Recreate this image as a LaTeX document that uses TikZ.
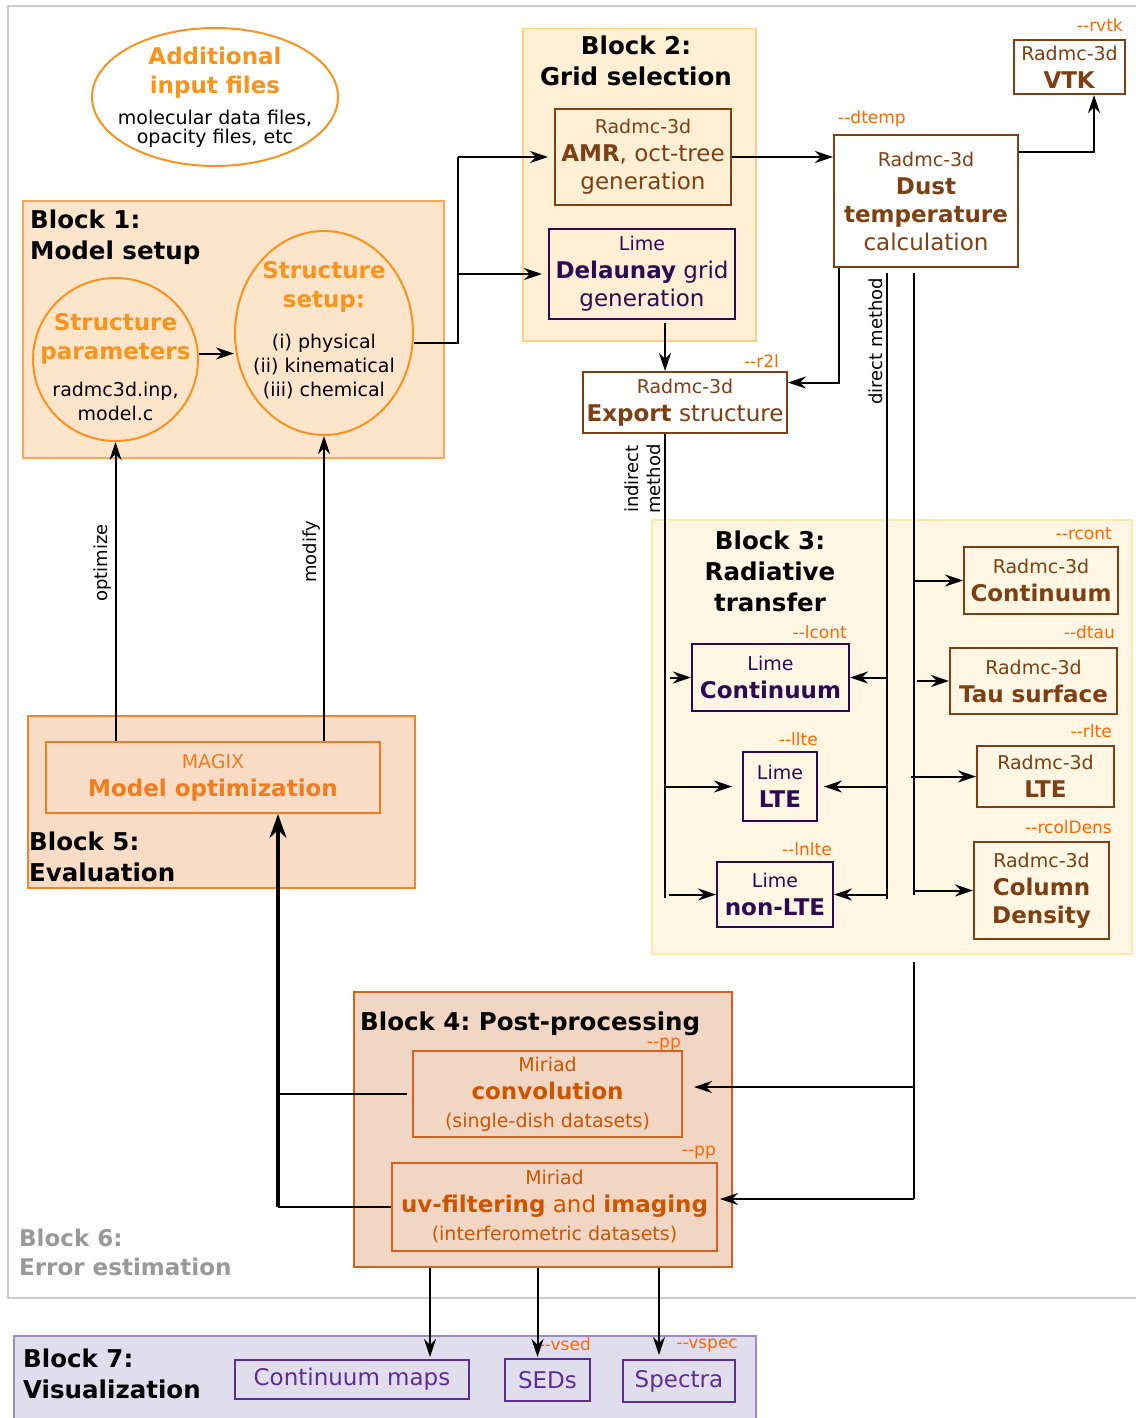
\documentclass[tikz,border=0pt]{standalone}
\usepackage{fontspec}
\setmainfont{DejaVu Sans}
\newfontfamily\optfont{DejaVu Sans}[Ligatures=TeXOff]
\usepackage{tikz}
\usetikzlibrary{calc,arrows.meta,shapes.geometric,positioning}
\definecolor{orangeA}{HTML}{F7941E}
\definecolor{fillA}{HTML}{FDE5CB}
\definecolor{bordA}{HTML}{F9A857}
\definecolor{fillB}{HTML}{FFF0D5}
\definecolor{bordB}{HTML}{FDD089}
\definecolor{fillC}{HTML}{FFF7E4}
\definecolor{bordC}{HTML}{FDE8A8}
\definecolor{fillD}{HTML}{F2D6C4}
\definecolor{bordD}{HTML}{D6621D}
\definecolor{fillE}{HTML}{F9DCC6}
\definecolor{bordE}{HTML}{F08531}
\definecolor{fillG}{HTML}{E0DDEC}
\definecolor{bordG}{HTML}{9C8EC5}
\definecolor{brownR}{HTML}{7E3F12}
\definecolor{purpL}{HTML}{2E0A52}
\definecolor{miriadc}{HTML}{CC5500}
\definecolor{magixc}{HTML}{F07C1E}
\definecolor{visc}{HTML}{5E2D91}
\definecolor{optc}{HTML}{FF6600}
\definecolor{framec}{HTML}{CCCCCC}
\definecolor{grayt}{HTML}{999999}
\newcommand{\hd}[1]{{\fontsize{19}{28}\selectfont #1}}
\newcommand{\bk}[1]{{\color{black}\fontsize{19}{28}\selectfont #1}}
\tikzset{
  box/.style={draw, line width=2pt, rectangle, inner sep=0pt, align=center,
    font=\fontsize{23}{28}\selectfont},
  radmc/.style={box, draw=brownR, text=brownR},
  lime/.style={box, draw=purpL, text=purpL},
  miriad/.style={box, draw=bordD, text=miriadc},
  vis/.style={box, draw=visc, text=visc},
  circ/.style={ellipse, draw=orangeA, line width=2pt, inner sep=0pt},
  circtxt/.style={inner sep=0pt, align=center, font=\fontsize{23}{29}\selectfont, text=orangeA},
  blk/.style={rectangle, line width=1.5pt, inner sep=0pt, anchor=north west},
  ttl/.style={inner sep=0pt, align=left, anchor=north west,
    font=\fontsize{24.5}{31}\selectfont\bfseries},
  opt/.style={inner sep=0pt, anchor=base east, text=optc,
    font=\optfont\fontsize{17}{18}\selectfont},
  rot/.style={rotate=90, inner sep=3pt, font=\fontsize{18}{22}\selectfont},
  ln/.style={line width=2pt},
  arr/.style={ln, -{Stealth[length=18pt,width=12pt,inset=6pt]}},
  thk/.style={line width=3.5pt, -{Stealth[length=24pt,width=17pt,inset=8pt]}},
}
\begin{document}
\frenchspacing
\begin{tikzpicture}[x=1pt,y=-1pt]
  \useasboundingbox (0,0) rectangle (1135,1418);
  \draw[framec, line width=2.5pt] (8,6) rectangle (1140,1298);

  \node[blk, fill=fillA, draw=bordA, minimum width=421pt, minimum height=257pt] (b1) at (22,200) {};
  \node[blk, fill=fillB, draw=bordB, minimum width=233pt, minimum height=312pt] (b2) at (522,28) {};
  \node[blk, fill=fillC, draw=bordC, minimum width=480pt, minimum height=434pt] (b3) at (651,519) {};
  \node[blk, fill=fillD, draw=bordD, minimum width=378pt, minimum height=275pt] (b4) at (353,991) {};
  \node[blk, fill=fillE, draw=bordE, minimum width=387pt, minimum height=172pt] (b5) at (27,715) {};
  \node[blk, fill=fillG, draw=bordG, minimum width=742pt, minimum height=95pt] (b7) at (13,1335) {};

  \node[ttl] (t1) at (30,210) {Block 1:\\Model setup};
  \node[ttl, align=center, anchor=north] (t2) at (636,36) {Block 2:\\Grid selection};
  \node[ttl, align=center, anchor=north] (t3) at (770,531) {Block 3:\\Radiative\\transfer};
  \node[ttl] (t4) at (360,1012) {Block 4: Post-processing};
  \node[ttl] (t5) at (29,832) {Block 5:\\Evaluation};
  \node[ttl, text=grayt, font=\fontsize{23}{29}\selectfont\bfseries] (t6) at (19,1229) {Block 6:\\Error estimation};
  \node[ttl] (t7) at (23,1349) {Block 7:\\Visualization};

  \node[circ, fill=white, minimum width=246pt, minimum height=138pt] (add) at (215,97) {};
  \node[circtxt] (addtxt) at (215,97)
    {\textbf{Additional}\\\textbf{input files}\\[2pt]\bk{molecular data files,}\\[-10pt]\bk{opacity files, etc}};
  \node[circ, minimum width=165pt, minimum height=163pt] (param) at (115.5,359.5) {};
  \node[circtxt] (paramtxt) at (115.5,367)
    {\textbf{Structure}\\\textbf{parameters}\\[8pt]\bk{radmc3d.inp,}\\[-5pt]\bk{model.c}};
  \node[circ, minimum width=178pt, minimum height=204pt] (setup) at (324,333) {};
  \node[circtxt] (setuptxt) at (324,330)
    {\textbf{Structure}\\\textbf{setup:}\\[12pt]\bk{(i) physical}\\[-5pt]\bk{(ii) kinematical}\\[-5pt]\bk{(iii) chemical}};

  \node[radmc, minimum width=176pt, minimum height=96pt] (amr) at (643,157)
    {\hd{Radmc-3d}\\\textbf{AMR}, oct-tree\\generation};
  \node[lime, minimum width=186pt, minimum height=90pt] (dela) at (642,274)
    {\hd{Lime}\\\textbf{Delaunay} grid\\generation};
  \node[radmc, fill=white, minimum width=204pt, minimum height=61pt] (export) at (685,402.5)
    {\hd{Radmc-3d}\\\textbf{Export} structure};
  \node[radmc, fill=white, minimum width=184pt, minimum height=132pt] (dust) at (926,201)
    {\hd{Radmc-3d}\\\textbf{Dust}\\\textbf{temperature}\\calculation};
  \node[radmc, fill=white, minimum width=111pt, minimum height=54pt] (vtk) at (1069.5,67)
    {\hd{Radmc-3d}\\\textbf{VTK}};

  \node[lime, minimum width=157pt, minimum height=67pt] (lcont) at (770.5,677.5) {\hd{Lime}\\\textbf{Continuum}};
  \node[lime, minimum width=74pt, minimum height=69pt] (llte) at (780,786.5) {\hd{Lime}\\\textbf{LTE}};
  \node[lime, minimum width=116pt, minimum height=65pt] (lnlte) at (775,894.5) {\hd{Lime}\\\textbf{non-LTE}};
  \node[radmc, minimum width=154pt, minimum height=67pt] (rcont) at (1041,580.5) {\hd{Radmc-3d}\\\textbf{Continuum}};
  \node[radmc, minimum width=167pt, minimum height=66pt] (tau) at (1033.5,681) {\hd{Radmc-3d}\\\textbf{Tau surface}};
  \node[radmc, minimum width=137pt, minimum height=61pt] (rlte) at (1045.5,776.5) {\hd{Radmc-3d}\\\textbf{LTE}};
  \node[radmc, minimum width=135pt, minimum height=97pt] (coldens) at (1041.5,890.5)
    {\hd{Radmc-3d}\\\textbf{Column}\\\textbf{Density}};

  \node[miriad, minimum width=269pt, minimum height=86pt] (conv) at (547.5,1094)
    {\hd{Miriad}\\\textbf{convolution}\\\hd{(single-dish datasets)}};
  \node[miriad, minimum width=325pt, minimum height=88pt] (uv) at (554.5,1207)
    {\hd{Miriad}\\\textbf{uv-filtering} and \textbf{imaging}\\\hd{(interferometric datasets)}};
  \node[box, draw=magixc, text=magixc, minimum width=334pt, minimum height=71pt] (magix) at (213,777.5)
    {\hd{MAGIX}\\\textbf{Model optimization}};

  \node[vis, minimum width=234pt, minimum height=39pt] (maps) at (352,1379.5) {Continuum maps};
  \node[vis, minimum width=85pt, minimum height=42pt] (seds) at (547.5,1380) {SEDs};
  \node[vis, minimum width=112pt, minimum height=42pt] (spectra) at (679,1381) {Spectra};

  \node[opt] (o1) at ([xshift=-3pt,yshift=7pt]vtk.north east) {--rvtk};
  \node[opt, anchor=base west] (o2) at ([xshift=5pt,yshift=10pt]dust.north west) {--dtemp};
  \node[opt] (o3) at ([xshift=-9pt,yshift=4pt]export.north east) {--r2l};
  \node[opt] (o4) at ([xshift=-3pt,yshift=5pt]lcont.north east) {--lcont};
  \node[opt] (o5) at ([yshift=6pt]llte.north east) {--llte};
  \node[opt] (o6) at ([xshift=-2pt,yshift=6pt]lnlte.north east) {--lnlte};
  \node[opt] (o7) at ([xshift=-7pt,yshift=7pt]rcont.north east) {--rcont};
  \node[opt] (o8) at ([xshift=-3pt,yshift=9pt]tau.north east) {--dtau};
  \node[opt] (o9) at ([xshift=-3pt,yshift=8pt]rlte.north east) {--rlte};
  \node[opt] (o10) at ([xshift=2pt,yshift=8pt]coldens.north east) {--rcolDens};
  \node[opt] (o11) at ([xshift=-2pt,yshift=3pt]conv.north east) {--pp};
  \node[opt] (o12) at ([xshift=-2pt,yshift=7pt]uv.north east) {--pp};
  \node[opt] (o13) at ([yshift=8pt]seds.north east) {--vsed};
  \node[opt] (o14) at ([xshift=2pt,yshift=11pt]spectra.north east) {--vspec};

  \coordinate (p1) at ([yshift=6pt]param.east);
  \draw[arr] (p1) -- (p1 -| setup.west);
  \coordinate (s1) at ([yshift=-10pt]setup.east);
  \coordinate (j1) at ([xshift=44pt]s1);
  \draw[ln] (s1) -- (j1) -- (j1 |- amr.west);
  \draw[arr] (j1 |- amr.west) -- ([xshift=-6pt]amr.west);
  \draw[arr] (j1 |- dela.west) -- ([xshift=-6pt]dela.west);
  \draw[arr] (amr.east) -- (amr.east -| dust.west);
  \coordinate (d1) at ([yshift=-18pt]dust.north east);
  \coordinate (v1) at ([xshift=75pt]d1);
  \draw[arr] (d1) -- (v1) -- (v1 |- vtk.south);
  \coordinate (d2) at ([xshift=6pt]dust.south west);
  \coordinate (e1) at ([yshift=20pt]export.east);
  \draw[arr] (d2) |- (e1);
  \coordinate (d3) at ([xshift=23pt,yshift=-3pt]dela.south);
  \draw[arr] (d3) -- (d3 |- export.north);

  \coordinate (i0) at ([xshift=-20pt]export.south);
  \coordinate (i1) at ([yshift=-464pt]i0);
  \draw[ln] (i0) -- (i1) node[pos=0.097, rot, anchor=south, align=center] (im) {indirect\\method};
  \coordinate (r0) at ([xshift=-39pt,yshift=-5pt]dust.south);
  \coordinate (r1) at ([yshift=-626pt]r0);
  \draw[ln] (r0) -- (r1) node[pos=0.109, rot, anchor=south] (dm) {direct method};
  \coordinate (q0) at ([xshift=-12pt,yshift=-5pt]dust.south);
  \coordinate (q1) at ([yshift=-622pt]q0);
  \draw[ln] (q0) -- (q1);

  \draw[arr] ([xshift=-21pt]lcont.west) -- (lcont.west);
  \draw[arr] (lcont.east -| r0) -- (lcont.east);
  \draw[arr] (llte.west -| i0) -- ([xshift=-10pt]llte.west);
  \draw[arr] (llte.east -| r0) -- ([xshift=6pt]llte.east);
  \draw[arr] ([xshift=-47pt]lnlte.west) -- (lnlte.west);
  \draw[arr] (lnlte.east -| r0) -- (lnlte.east);
  \draw[arr] (rcont.west -| q0) -- (rcont.west);
  \draw[arr] ([xshift=-32pt]tau.west) -- (tau.west);
  \draw[arr] ([xshift=-65pt]rlte.west) -- (rlte.west);
  \draw[arr] (coldens.west -| q0) -- (coldens.west);

  \coordinate (p0) at (b3.south -| q0);
  \coordinate (p2) at ([yshift=-7pt]p0);
  \coordinate (p3) at ([yshift=-244pt]p0);
  \draw[ln] (p2) -- (p3);
  \coordinate (cin) at ([xshift=11pt,yshift=7pt]conv.east);
  \draw[arr] (cin -| p0) -- (cin);
  \coordinate (uin) at ([xshift=2pt,yshift=8pt]uv.east);
  \draw[arr] (uin -| p0) -- (uin);

  \coordinate (fb) at ([xshift=65pt]magix.south);
  \draw[ln] (uv.west) -- (uv.west -| fb);
  \draw[ln] ([xshift=-5pt]conv.west) -- (conv.west -| fb);
  \draw[thk] (uv.west -| fb) -- (fb);

  \draw[arr] (magix.north -| param.south) -- (param.south)
    node[pos=0.595, rot, anchor=south] (lopt) {optimize};
  \draw[arr] (magix.north -| setup.south) -- (setup.south)
    node[pos=0.62, rot, anchor=south] (lmod) {modify};

  \coordinate (m1) at ([xshift=78pt,yshift=2pt]maps.north);
  \draw[arr] (b4.south -| m1) -- (m1);
  \coordinate (m2) at ([xshift=-10pt,yshift=1pt]seds.north);
  \draw[arr] (b4.south -| m2) -- (m2);
  \coordinate (m3) at ([xshift=-20pt,yshift=4pt]spectra.north);
  \draw[arr] (b4.south -| m3) -- (m3);
\end{tikzpicture}
\end{document}
